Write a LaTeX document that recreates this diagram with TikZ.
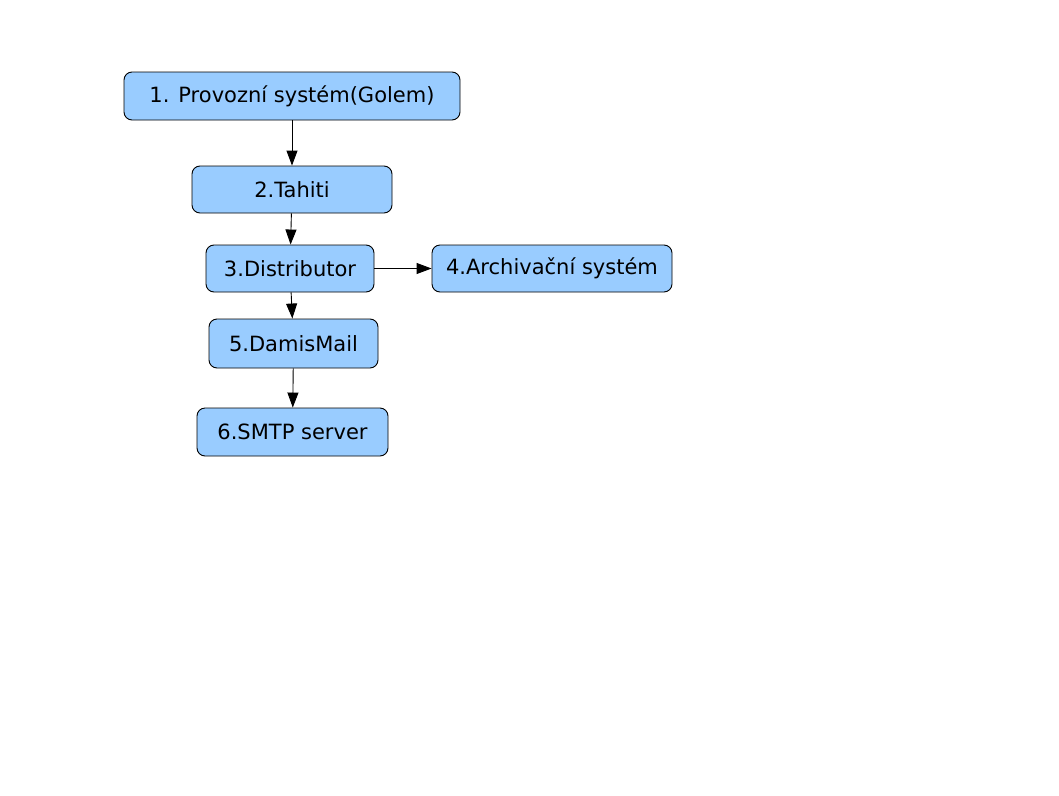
\documentclass[tikz,border=0pt]{standalone}
\usepackage{fontspec}
\setmainfont{DejaVu Sans}
\usetikzlibrary{arrows.meta}
\definecolor{boxblue}{HTML}{99CCFF}
\begin{document}
\begin{tikzpicture}[x=1pt,y=-1pt,
  box/.style={draw=black,line width=0.9pt,fill=boxblue,rounded corners=8pt,
    inner sep=0pt,font=\fontsize{21}{25}\selectfont},
  flow/.style={draw=black,line width=0.9pt,-{Triangle[length=15pt,width=11pt]}}]
\useasboundingbox[fill=white] (0,0) rectangle (1059,795);
\node[box,minimum width=336pt,minimum height=48pt] (n1) at (292,96) {1. Provozní systém(Golem)};
\node[box,minimum width=200pt,minimum height=47pt] (n2) at (292,189.5) {2.Tahiti};
\node[box,minimum width=168pt,minimum height=47pt] (n3) at (290,268.5) {3.Distributor};
\node[box,minimum width=240pt,minimum height=47pt] (n4) at (552,268.5) {4.Archivační systém};
\node[box,minimum width=169pt,minimum height=49pt] (n5) at (293.5,343.5) {5.DamisMail};
\node[box,minimum width=191pt,minimum height=48pt] (n6) at (292.5,432) {6.SMTP server};
\draw[flow] (n1) -- (n2);
\draw[flow] (n2) -- (n3);
\draw[flow] (n3) -- (n4);
\draw[flow] (n3) -- (n5);
\draw[flow] (n5) -- (n6);
\end{tikzpicture}
\end{document}
